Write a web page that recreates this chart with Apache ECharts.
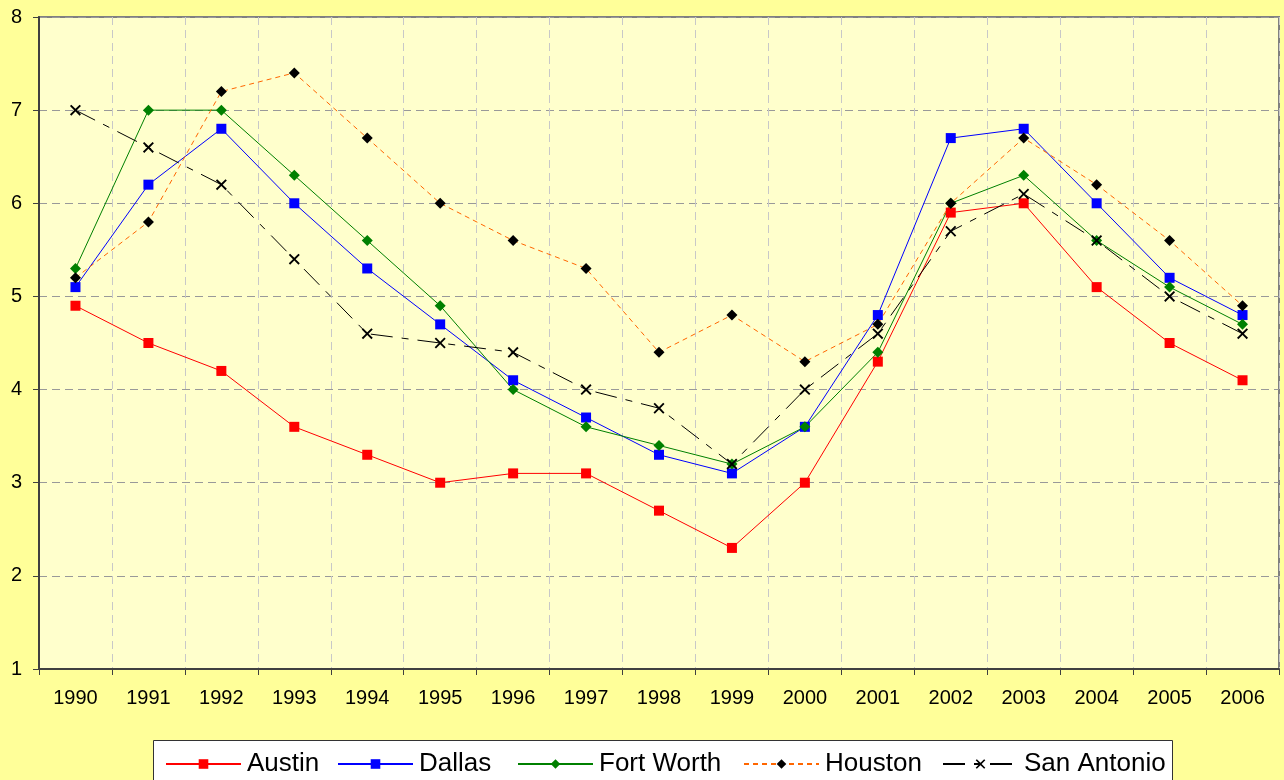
<!DOCTYPE html>
<html><head><meta charset="utf-8">
<script src="https://cdn.jsdelivr.net/npm/echarts@6/dist/echarts.min.js"></script>
<style>html,body{margin:0;padding:0;background:#FFFF99;}#c{width:1284px;height:780px;}</style>
</head><body><div id="c"></div>
<script>
const years = ['1990','1991','1992','1993','1994','1995','1996','1997','1998','1999','2000','2001','2002','2003','2004','2005','2006'];
const austin = [4.9,4.5,4.2,3.6,3.3,3.0,3.1,3.1,2.7,2.3,3.0,4.3,5.9,6.0,5.1,4.5,4.1];
const dallas = [5.1,6.2,6.8,6.0,5.3,4.7,4.1,3.7,3.3,3.1,3.6,4.8,6.7,6.8,6.0,5.2,4.8];
const fortWorth = [5.3,7.0,7.0,6.3,5.6,4.9,4.0,3.6,3.4,3.2,3.6,4.4,6.0,6.3,5.6,5.1,4.7];
const houston = [5.2,5.8,7.2,7.4,6.7,6.0,5.6,5.3,4.4,4.8,4.3,4.7,6.0,6.7,6.2,5.6,4.9];
const sanAntonio = [7.0,6.6,6.2,5.4,4.6,4.5,4.4,4.0,3.8,3.2,4.0,4.6,5.7,6.1,5.6,5.0,4.6];
const seriesNames = ['Austin','Dallas','Fort Worth','Houston','San Antonio'];

const xPath = 'path://M0,1.2L1.2,0L5,3.8L8.8,0L10,1.2L6.2,5L10,8.8L8.8,10L5,6.2L1.2,10L0,8.8L3.8,5Z';
const font = 'Liberation Sans, Arial, sans-serif';
const legendLefts = [165, 337, 517, 743, 942];
const legends = seriesNames.map((n, i) => ({
  left: legendLefts[i], top: 751, padding: 0, z: 10,
  itemWidth: 75, itemHeight: 12, itemGap: 0,
  textStyle: {fontFamily: font, fontSize: 26, color: '#000', lineHeight: 26, padding: [0,0,0,1]},
  data: [n]
}));
const chart = echarts.init(document.getElementById('c'));
chart.setOption({
  backgroundColor: '#FFFF99',
  animation: false,
  graphic: [{type: 'rect', z: 1, shape: {x: 153.5, y: 740.5, width: 1019, height: 80},
    style: {fill: '#FFFFFF', stroke: '#333333', lineWidth: 1}}],
  grid: {left: 39, right: 5, top: 17, bottom: 111, show: true, backgroundColor: '#FFFFCC', borderColor: '#808080', borderWidth: 2},
  xAxis: {
    type: 'category', data: years, boundaryGap: true,
    axisLine: {lineStyle: {color: '#404040', width: 2}},
    axisTick: {show: true, length: 6, lineStyle: {color: '#404040', width: 1}},
    axisLabel: {color: '#000', fontFamily: font, fontSize: 20, margin: 19},
    splitLine: {show: true, lineStyle: {color: '#C8C8C8', type: [8,5], width: 1}}
  },
  yAxis: {
    type: 'value', min: 1, max: 8, interval: 1,
    axisLine: {show: true, lineStyle: {color: '#404040', width: 2}},
    axisTick: {show: true, length: 6, lineStyle: {color: '#404040'}},
    axisLabel: {color: '#000', fontFamily: font, fontSize: 20, margin: 17},
    splitLine: {show: true, lineStyle: {color: '#999999', type: [8,5], width: 1}}
  },
  legend: legends,
  series: [
    {name: 'Austin', type: 'line', data: austin, symbol: 'rect', symbolSize: 10,
     lineStyle: {color: '#FF0000', width: 1}, itemStyle: {color: '#FF0000'}},
    {name: 'Dallas', type: 'line', data: dallas, symbol: 'rect', symbolSize: 10,
     lineStyle: {color: '#0000FF', width: 1}, itemStyle: {color: '#0000FF'}},
    {name: 'Fort Worth', type: 'line', data: fortWorth, symbol: 'diamond', symbolSize: 11,
     lineStyle: {color: '#008000', width: 1}, itemStyle: {color: '#008000'}},
    {name: 'Houston', type: 'line', data: houston, symbol: 'diamond', symbolSize: 11,
     lineStyle: {color: '#FF6600', width: 1, type: [5,4]}, itemStyle: {color: '#000000'}},
    {name: 'San Antonio', type: 'line', data: sanAntonio, symbol: xPath, symbolSize: 11,
     lineStyle: {color: '#000000', width: 1, type: [22,9,7,9]}, itemStyle: {color: '#000000'}}
  ]
});
</script></body></html>
